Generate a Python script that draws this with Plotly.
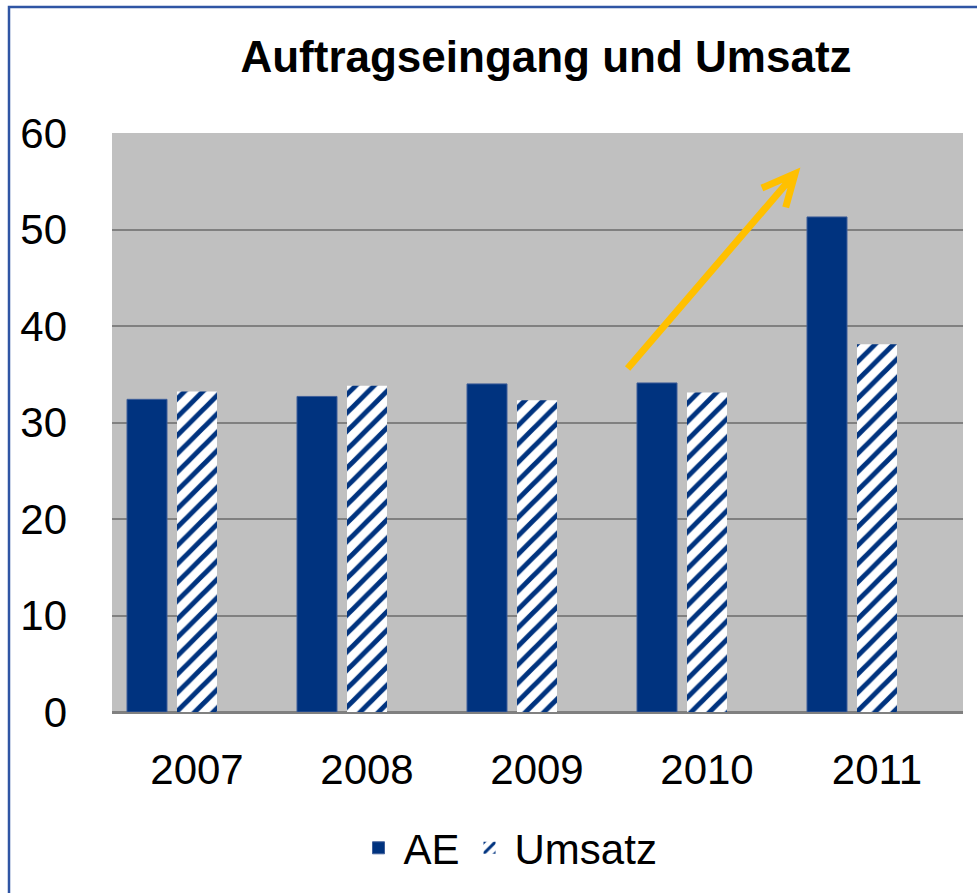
import plotly.graph_objects as go

years = ["2007", "2008", "2009", "2010", "2011"]
ae = [32.4, 32.7, 34.0, 34.1, 51.3]
umsatz = [33.2, 33.8, 32.3, 33.1, 38.1]
y_ticks = [0, 10, 20, 30, 40, 50, 60]

FONT = "Liberation Sans Narrow, Arial Narrow, Liberation Sans, Arial, sans-serif"
NAVY = "#00337F"

idx = list(range(len(years)))
off = 25 / 170
w = 40 / 170

fig = go.Figure()
fig.add_trace(go.Bar(
    name="AE", x=[i - off for i in idx], y=ae, width=w,
    marker=dict(color=NAVY, line=dict(color="#3F5F9A", width=1)),
))
fig.add_trace(go.Bar(
    name="Umsatz", x=[i + off for i in idx], y=umsatz, width=w,
    marker=dict(color="white", line=dict(color="white", width=0),
                pattern=dict(shape="/", fgcolor=NAVY, bgcolor="white", size=13, solidity=0.38,
                             fgopacity=1)),
))

# trend arrow (data coords)
tail = (2.68, 35.6)
tip = (3.665, 55.8)
arm1 = (3.47, 54.3)
arm2 = (3.61, 52.3)
fig.add_shape(type="path", xref="x", yref="y",
              path=f"M{tail[0]},{tail[1]} L{tip[0]},{tip[1]} M{arm1[0]},{arm1[1]} L{tip[0]},{tip[1]} L{arm2[0]},{arm2[1]}",
              line=dict(color="#FFC000", width=7), layer="above")

# outer border
fig.add_shape(type="rect", xref="paper", yref="paper",
              x0=(9 - 112) / 851, x1=1.2, y0=-0.6, y1=(712 - 7) / 579,
              line=dict(color="#2F55A4", width=2.5), fillcolor="rgba(0,0,0,0)", layer="above")

fig.update_layout(
    width=977, height=893,
    margin=dict(l=112, r=14, t=133, b=181, autoexpand=False),
    paper_bgcolor="white", plot_bgcolor="#C0C0C0",
    barmode="overlay",
    font=dict(family=FONT, size=42, color="black"),
    title=dict(text="<b>Auftragseingang und Umsatz</b>", x=546 / 977, xanchor="center",
               y=1 - 57 / 893, yanchor="middle", yref="container",
               font=dict(family=FONT, size=44, color="black")),
    xaxis=dict(range=[-60 / 170, 791 / 170], tickvals=[i + off for i in idx], ticktext=years,
               showgrid=False, zeroline=False, showline=False, ticks="", ticklabelstandoff=29,
               tickangle=0, automargin=False, tickfont=dict(size=42)),
    yaxis=dict(range=[0, 60], tickvals=y_ticks, showgrid=True, gridcolor="#808080", gridwidth=2,
               zeroline=True, zerolinecolor="#808080", zerolinewidth=3, ticks="",
               ticklabelstandoff=44, automargin=False, tickfont=dict(size=42)),
    legend=dict(orientation="h", xref="container", yref="container",
                x=508 / 977, xanchor="center", y=1 - 848 / 893, yanchor="middle",
                font=dict(size=42), itemwidth=40, bgcolor="rgba(0,0,0,0)", traceorder="normal"),
    showlegend=True,
)

fig.write_html("out.html", config={"displayModeBar": False},
               post_script="document.body.style.margin='0';")
